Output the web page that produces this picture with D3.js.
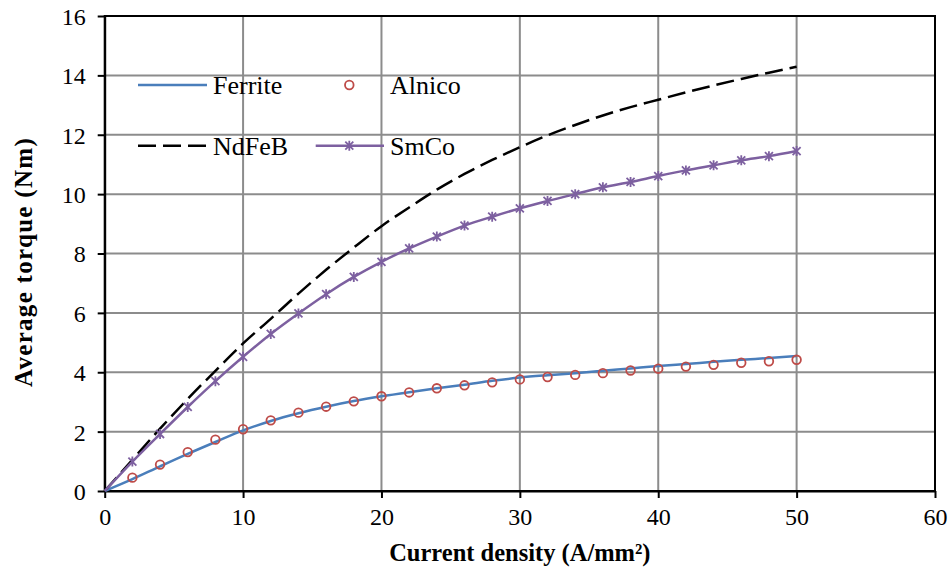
<!DOCTYPE html>
<html>
<head>
<meta charset="utf-8">
<script src="https://cdn.jsdelivr.net/npm/d3@7"></script>
<style>
  html, body { margin: 0; padding: 0; background: #fff; }
  svg { display: block; font-family: "Liberation Serif", "Times New Roman", serif; }
</style>
</head>
<body>
<svg id="chart" width="951" height="571"></svg>
<script>
// ---- data ----
const currentDensity = [0, 2, 4, 6, 8, 10, 12, 14, 16, 18, 20, 22, 24, 26, 28, 30, 32, 34, 36, 38, 40, 42, 44, 46, 48, 50];
const ferrite = [0, 0.40, 0.83, 1.25, 1.65, 2.04, 2.36, 2.62, 2.84, 3.03, 3.19, 3.33, 3.46, 3.58, 3.71, 3.82, 3.90, 3.97, 4.05, 4.13, 4.21, 4.28, 4.35, 4.42, 4.48, 4.55];
const alnico = [null, 0.45, 0.89, 1.31, 1.73, 2.08, 2.38, 2.64, 2.84, 3.02, 3.19, 3.32, 3.46, 3.56, 3.66, 3.76, 3.84, 3.91, 3.97, 4.06, 4.12, 4.19, 4.25, 4.32, 4.37, 4.42];
const ndfeb = [0, 1.05, 2.1, 3.1, 4.05, 4.97, 5.8, 6.65, 7.45, 8.2, 8.92, 9.55, 10.15, 10.68, 11.15, 11.58, 11.98, 12.33, 12.65, 12.93, 13.18, 13.43, 13.66, 13.88, 14.09, 14.29];
const smco = [0, 0.99, 1.92, 2.83, 3.70, 4.52, 5.29, 5.98, 6.63, 7.21, 7.72, 8.17, 8.57, 8.94, 9.24, 9.52, 9.77, 10.0, 10.23, 10.41, 10.61, 10.80, 10.97, 11.14, 11.28, 11.45];
const xTicks = [0, 10, 20, 30, 40, 50, 60];
const yTicks = [0, 2, 4, 6, 8, 10, 12, 14, 16];
const seriesNames = ["Ferrite", "Alnico", "NdFeB", "SmCo"];
const xTitle = "Current density (A/mm²)";
const yTitle = "Average torque (Nm)";

// ---- layout ----
const svg = d3.select("#chart");
const L = 104.7, R = 935, T = 16, B = 491;
const x = d3.scaleLinear().domain([0, 60]).range([L, R]);
const y = d3.scaleLinear().domain([0, 16]).range([B, T]);

const colors = { Ferrite: "#4a7ebb", Alnico: "#be4b48", NdFeB: "#000000", SmCo: "#7d60a0" };
const gridColor = "#8c8c8c";

// grid
const grid = svg.append("g");
grid.selectAll("line.v").data(xTicks.filter(d => d > 0 && d < 60)).enter().append("line")
  .attr("x1", d => x(d)).attr("x2", d => x(d)).attr("y1", T).attr("y2", B)
  .attr("stroke", gridColor).attr("stroke-width", 2);
grid.selectAll("line.h").data(yTicks.filter(d => d > 0 && d < 16)).enter().append("line")
  .attr("x1", L).attr("x2", R).attr("y1", d => y(d)).attr("y2", d => y(d))
  .attr("stroke", gridColor).attr("stroke-width", 2);

// frame (top/right)
svg.append("rect").attr("x", L).attr("y", T).attr("width", R - L).attr("height", B - T)
  .attr("fill", "none").attr("stroke", "#000").attr("stroke-width", 2);

// axes
const xAxis = d3.axisBottom(x).tickValues(xTicks).tickSizeInner(7).tickSizeOuter(0).tickPadding(10);
const yAxis = d3.axisLeft(y).tickValues(yTicks).tickSizeInner(7).tickSizeOuter(0).tickPadding(12);
const gx = svg.append("g").attr("transform", `translate(0,${B})`).call(xAxis);
const gy = svg.append("g").attr("transform", `translate(${L},0)`).call(yAxis);
[gx, gy].forEach(g => {
  g.attr("font-family", null).attr("font-size", null);
  g.select(".domain").attr("stroke", "#000").attr("stroke-width", 2);
  g.selectAll(".tick line").attr("stroke", "#000").attr("stroke-width", 2);
  g.selectAll(".tick text").attr("fill", "#000").style("font-size", "24px")
    .style("font-family", "'Liberation Serif', 'Times New Roman', serif");
});
gy.selectAll(".tick text").attr("dy", "0.35em");

// lines
const mk = vals => currentDensity.map((c, i) => ({ x: c, y: vals[i] })).filter(d => d.y !== null);
const line = d3.line().x(d => x(d.x)).y(d => y(d.y)).curve(d3.curveMonotoneX);

svg.append("path").datum(mk(ferrite)).attr("d", line)
  .attr("fill", "none").attr("stroke", colors.Ferrite).attr("stroke-width", 2.5);
svg.append("path").datum(mk(ndfeb)).attr("d", line)
  .attr("fill", "none").attr("stroke", colors.NdFeB).attr("stroke-width", 2.5)
  .attr("stroke-dasharray", "18,7");
svg.append("path").datum(mk(smco)).attr("d", line)
  .attr("fill", "none").attr("stroke", colors.SmCo).attr("stroke-width", 2.5);

// markers
svg.append("g").selectAll("circle").data(mk(alnico).filter(d => d.x > 0)).enter().append("circle")
  .attr("cx", d => x(d.x)).attr("cy", d => y(d.y)).attr("r", 4.3)
  .attr("fill", "none").attr("stroke", colors.Alnico).attr("stroke-width", 1.8);

function starPath(cx, cy) {
  const a = 4, v = 5;
  return `M${cx - a},${cy - a}L${cx + a},${cy + a}M${cx - a},${cy + a}L${cx + a},${cy - a}M${cx},${cy - v}L${cx},${cy + v}`;
}
svg.append("g").selectAll("path").data(mk(smco).filter(d => d.x > 0)).enter().append("path")
  .attr("d", d => starPath(x(d.x), y(d.y)))
  .attr("stroke", colors.SmCo).attr("stroke-width", 1.8).attr("fill", "none");

// legend
const leg = svg.append("g").style("font-size", "26px").attr("fill", "#000");
const row1 = 85, row2 = 145.7;
leg.append("line").attr("x1", 138).attr("x2", 207).attr("y1", row1).attr("y2", row1)
  .attr("stroke", colors.Ferrite).attr("stroke-width", 2.5);
leg.append("text").attr("x", 213).attr("y", row1).attr("dy", "0.34em").text(seriesNames[0]);
leg.append("circle").attr("cx", 349.3).attr("cy", row1).attr("r", 4.3)
  .attr("fill", "none").attr("stroke", colors.Alnico).attr("stroke-width", 1.8);
leg.append("text").attr("x", 390).attr("y", row1).attr("dy", "0.34em").text(seriesNames[1]);
leg.append("line").attr("x1", 138).attr("x2", 207).attr("y1", row2).attr("y2", row2)
  .attr("stroke", colors.NdFeB).attr("stroke-width", 2.5).attr("stroke-dasharray", "18,7");
leg.append("text").attr("x", 213).attr("y", row2).attr("dy", "0.34em").text(seriesNames[2]);
leg.append("line").attr("x1", 315.7).attr("x2", 384).attr("y1", row2).attr("y2", row2)
  .attr("stroke", colors.SmCo).attr("stroke-width", 2.5);
leg.append("path").attr("d", starPath(349.3, row2))
  .attr("stroke", colors.SmCo).attr("stroke-width", 1.8).attr("fill", "none");
leg.append("text").attr("x", 390).attr("y", row2).attr("dy", "0.34em").text(seriesNames[3]);

// axis titles
svg.append("text").attr("x", (L + R) / 2).attr("y", 561).attr("text-anchor", "middle")
  .style("font-size", "24.5px").style("font-weight", "bold").text(xTitle);
svg.append("text").attr("transform", `translate(32,262) rotate(-90)`)
  .attr("text-anchor", "middle").style("font-size", "25px").style("font-weight", "bold")
  .style("letter-spacing", "1.3px").text(yTitle);
</script>
</body>
</html>
